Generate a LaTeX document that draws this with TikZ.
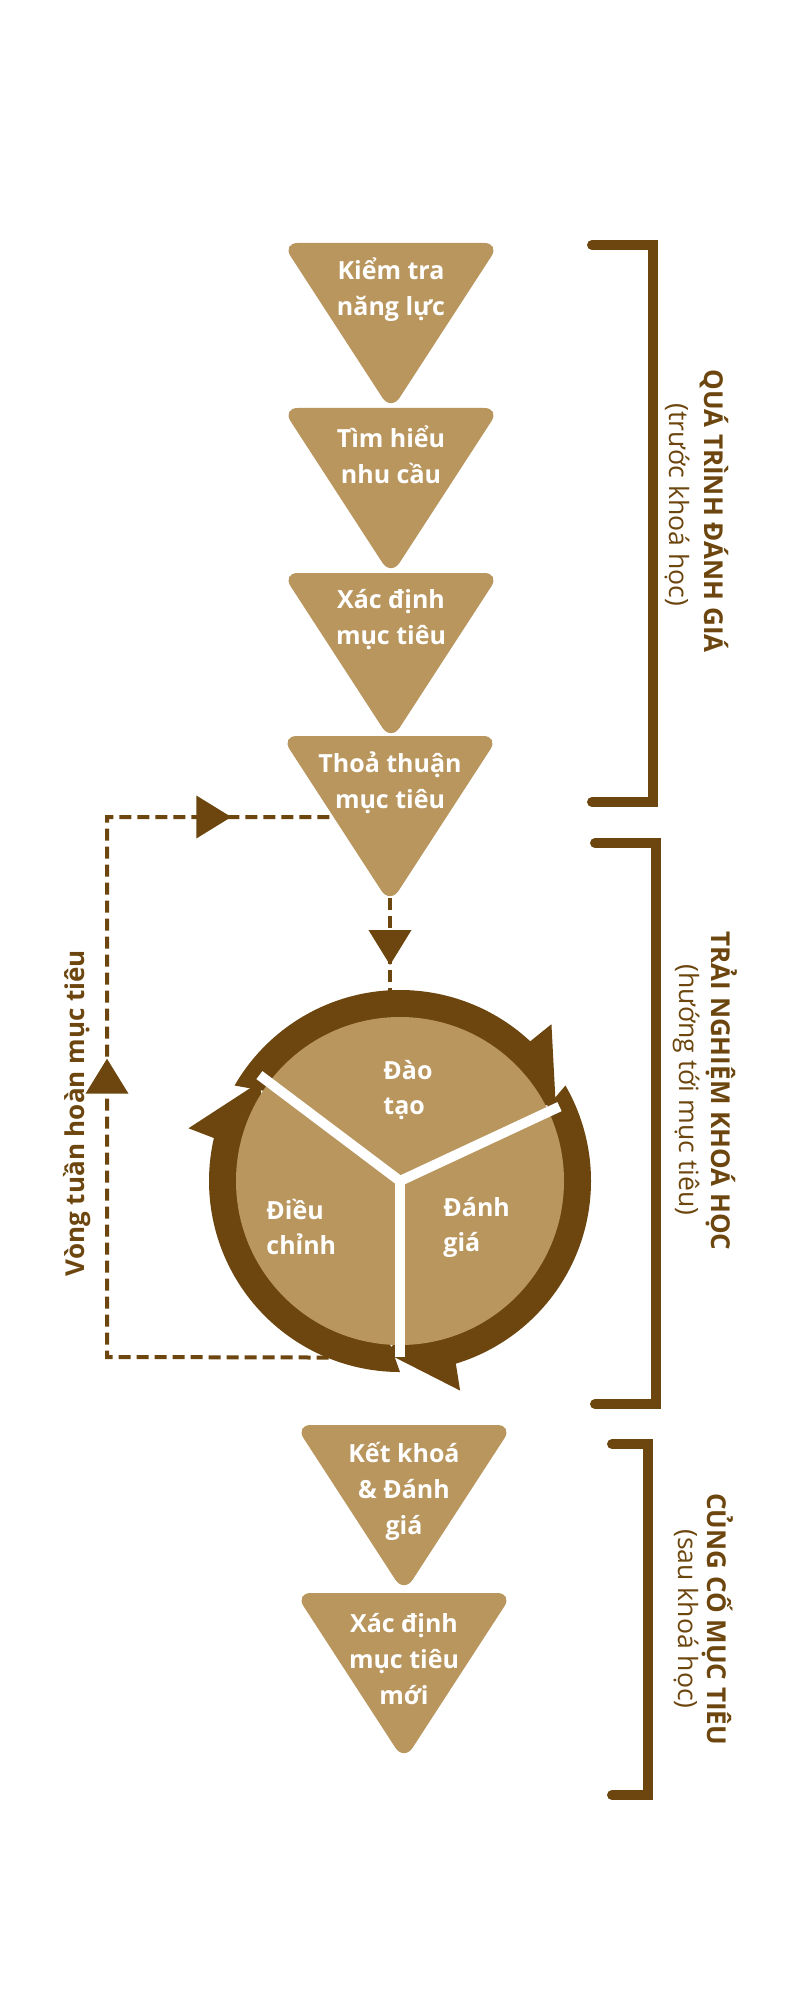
\documentclass[tikz,border=0pt]{standalone}
\usepackage{fontspec}
\setmainfont{Open Sans}
\usetikzlibrary{arrows.meta, decorations.markings}

\definecolor{goalfill}{HTML}{B8965E}
\definecolor{ringbrown}{HTML}{6C460E}

\begin{document}
\begin{tikzpicture}[x=0.5pt, y=0.5pt,
        tri/.style={fill=goalfill, rounded corners=8pt},
        lab/.style={text=white, font=\bfseries\fontsize{12.5}{18}\selectfont, align=center},
        seg/.style={text=white, font=\bfseries\fontsize{12.5}{17.5}\selectfont, align=left,
                    anchor=west, inner sep=0pt},
        brk/.style={draw=ringbrown, line width=5pt, line cap=round},
        ttl/.style={text=ringbrown, font=\bfseries\fontsize{13}{15}\selectfont, rotate=-90},
        subttl/.style={text=ringbrown, font=\fontsize{13.3}{15}\selectfont, rotate=-90},
        loopline/.style={draw=ringbrown, line width=2pt, dash pattern=on 6pt off 3pt},
        tipH/.tip={Triangle[length=17.5pt, width=21pt]},
        midtips/.style={postaction={decorate}, decoration={markings, #1}}]
      \fill[white] (0,0) rectangle (800,-2000);
      \useasboundingbox (0,0) rectangle (800,-2000);

      % cycle in the middle
      \node[circle, minimum size=190pt, inner sep=0pt] (cyc) at (400,-1181) {};

      % loop back to the agreement step
      \coordinate (ttap) at (390,-898);
      \coordinate (ttw) at (345,-817);
      \coordinate (lpt) at (107,-817);
      \coordinate (lpb) at (107,-1357);
      \draw[loopline, midtips={mark=at position 260pt with {\arrow{tipH}},
                               mark=at position 443pt with {\arrow{tipH}}}]
        (cyc.-112) -- (lpb) -- (lpt) -- (ttw);
      \draw[loopline, midtips={mark=at position 33.5pt with {\arrow{tipH}}}]
        (ttap) -- (ttap |- cyc.north);

      \begin{scope}[shift={(cyc.center)}]
        \foreach \t in {0,-120,120}
          \fill[ringbrown, rotate=\t] (150:191) arc[start angle=150, end angle=47, radius=191]
            -- (46:218) -- (25:172) -- (47:130) arc[start angle=47, end angle=140, radius=130] -- cycle;
        \fill[goalfill] (0,0) circle[radius=164];
        \foreach \a in {25,-90,143}
          \draw[white, line width=5pt] (0,0) -- (\a:176);
        \fill[white] (0,0) circle[radius=5];
      \end{scope}
      \node[seg] (dt) at (383,-1090) {Đào\\tạo};
      \node[seg] (dc) at (266,-1227) {Điều\\chỉnh};
      \node[seg] (dg) at (443,-1227) {Đánh\\giá};

      % steps
      \fill[tri] (391,-243) ++(-109,0) -- ++(218,0) -- ++(-109,-168) -- cycle;
      \fill[tri] (391,-408) ++(-109,0) -- ++(218,0) -- ++(-109,-168) -- cycle;
      \fill[tri] (391,-573) ++(-109,0) -- ++(218,0) -- ++(-109,-168) -- cycle;
      \fill[tri] (390,-736) ++(-109,0) -- ++(218,0) -- ++(-109,-168) -- cycle;
      \fill[tri] (404,-1425) ++(-109,0) -- ++(218,0) -- ++(-109,-168) -- cycle;
      \fill[tri] (404,-1593) ++(-109,0) -- ++(218,0) -- ++(-109,-168) -- cycle;
      \node[lab] (kt) at (391,-290) {Kiểm tra\\năng lực};
      \node[lab] (th) at (391,-455) {Tìm hiểu\\nhu cầu};
      \node[lab] (xd) at (391,-620) {Xác định\\mục tiêu};
      \node[lab] (tt) at (390,-783) {Thoả thuận\\mục tiêu};
      \node[lab] (kk) at (404,-1491) {Kết khoá\\\& Đánh\\giá};
      \node[lab] (xm) at (404,-1659) {Xác định\\mục tiêu\\mới};

      % brackets
      \draw[brk] (592,-245) -- (653,-245) -- (653,-802) -- (592,-802);
      \draw[brk] (595,-843) -- (656,-843) -- (656,-1404) -- (595,-1404);
      \draw[brk] (612,-1444) -- (648,-1444) -- (648,-1795) -- (612,-1795);
      \node[ttl] (qt) at (714,-511) {QUÁ TRÌNH ĐÁNH GIÁ};
      \node[subttl] (qs) at (677,-505) {(trước khoá học)};
      \node[ttl] (tn) at (722,-1091) {TRẢI NGHIỆM KHOÁ HỌC};
      \node[subttl] (ts) at (686,-1090) {(hướng tới mục tiêu)};
      \node[ttl] (cc) at (718,-1619) {CỦNG CỐ MỤC TIÊU};
      \node[subttl] (cs) at (686,-1619) {(sau khoá học)};
      \node[ttl, rotate=180] (vl) at (77,-1113) {Vòng tuần hoàn mục tiêu};
    \end{tikzpicture}
\end{document}
